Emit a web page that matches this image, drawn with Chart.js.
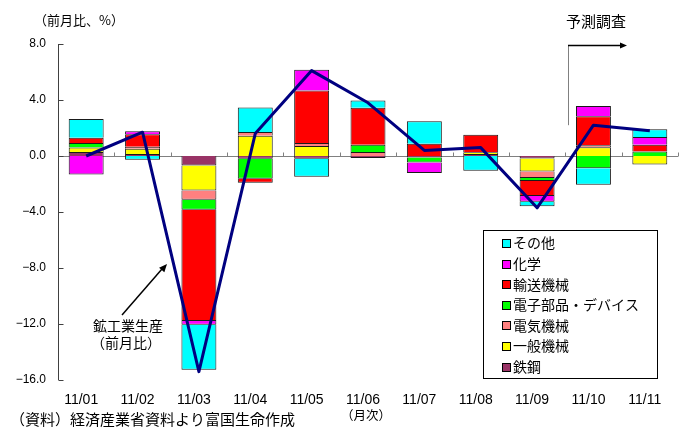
<!DOCTYPE html>
<html lang="ja">
<head>
<meta charset="utf-8">
<script src="https://cdn.jsdelivr.net/npm/chart.js@4/dist/chart.umd.min.js"></script>
<style>
  html, body { margin: 0; padding: 0; background: #fff; }
  #wrap { position: relative; width: 683px; height: 433px; }
</style>
</head>
<body>
<div id="wrap"><canvas id="c" width="683" height="433"></canvas></div>
<script>
// 月次カテゴリ
const months = ['11/01','11/02','11/03','11/04','11/05','11/06','11/07','11/08','11/09','11/10','11/11'];

// 業種別寄与度（%ポイント）
const tekko   = [0.29, 0.14, -0.67, -0.19, -0.19, -0.14, -0.10, 0.15, -0.17, 0, 0];
const ippan   = [0.31, 0.38, -1.79, 1.45, 0.71, 0, 0, 0.12, -0.93, 0.62, -0.60];
const denki   = [0, 0.14, -0.67, 0.26, 0.21, 0.29, 0, 0, -0.48, 0.15, 0];
const denshi  = [0.33, 0, -0.71, -1.43, 0, 0.52, -0.36, 0, -0.21, -0.88, 0.33];
const yuso    = [0.38, 0.90, -7.95, -0.29, 3.76, 2.64, 0.88, 1.25, -1.07, 2.07, 0.48];
const kagaku  = [-1.33, 0.21, -0.26, 0, 1.48, 0, -0.75, 0, -0.40, 0.74, 0.55];
const sonota  = [1.33, -0.26, -3.21, 1.76, -1.29, 0.52, 1.60, -1.05, -0.33, -1.17, 0.55];

// 鉱工業生産（前月比、%）
const kokogyo = [0.0, 1.7, -15.4, 1.6, 6.1, 3.8, 0.4, 0.6, -3.7, 2.2, 1.8];

// 縦軸目盛
const yMin = -16, yMax = 8, yStep = 4;

const JP = '"Noto Sans CJK JP", "Noto Sans", sans-serif';
const NUM = '"Liberation Sans Narrow", "Liberation Sans", Arial, sans-serif';

const barDefs = [
  ['鉄鋼', tekko, '#993366'],
  ['一般機械', ippan, '#FFFF00'],
  ['電気機械', denki, '#FF8080'],
  ['電子部品・デバイス', denshi, '#00FF00'],
  ['輸送機械', yuso, '#FF0000'],
  ['化学', kagaku, '#FF00FF'],
  ['その他', sonota, '#00FFFF']
];

const datasets = barDefs.map(([label, data, color]) => ({
  type: 'bar',
  label, data,
  backgroundColor: color,
  borderColor: '#1a1a1a',
  borderWidth: 1,
  order: 1,
  barPercentage: 0.62,
  categoryPercentage: 1.0
}));
datasets.push({
  type: 'line',
  label: '鉱工業生産',
  data: kokogyo,
  borderColor: '#000080',
  borderWidth: 3,
  borderJoinStyle: 'round',
  pointRadius: 0,
  tension: 0,
  order: 0
});

function arrowHead(ctx, x1, y1, x2, y2, len, half) {
  const a = Math.atan2(y2 - y1, x2 - x1);
  ctx.beginPath();
  ctx.moveTo(x2, y2);
  ctx.lineTo(x2 - len * Math.cos(a) + half * Math.sin(a), y2 - len * Math.sin(a) - half * Math.cos(a));
  ctx.lineTo(x2 - len * Math.cos(a) - half * Math.sin(a), y2 - len * Math.sin(a) + half * Math.cos(a));
  ctx.closePath();
  ctx.fill();
}

// 軸線・目盛線・注記・凡例
const decor = {
  id: 'decor',
  beforeDatasetsDraw(chart) {
    const { ctx, chartArea: ca, scales: { x, y } } = chart;
    ctx.save();
    // ゼロ線と区切り目盛
    const y0 = Math.round(y.getPixelForValue(0)) + 0.5;
    ctx.strokeStyle = '#808080';
    ctx.lineWidth = 1;
    ctx.beginPath();
    ctx.moveTo(ca.left, y0);
    ctx.lineTo(ca.right, y0);
    const step = x.getPixelForValue(1) - x.getPixelForValue(0);
    for (let i = 1; i <= months.length; i++) {
      const px = Math.round(x.getPixelForValue(i) - step / 2) + 0.5;
      ctx.moveTo(px, y0);
      ctx.lineTo(px, y0 - 4);
    }
    ctx.stroke();
    // 縦軸
    const lx = Math.round(ca.left) + 0.5;
    ctx.strokeStyle = '#404040';
    ctx.beginPath();
    ctx.moveTo(lx, y.getPixelForValue(yMax));
    ctx.lineTo(lx, y.getPixelForValue(yMin));
    for (let v = yMin; v <= yMax; v += yStep) {
      const py = Math.round(y.getPixelForValue(v)) + 0.5;
      ctx.moveTo(lx, py);
      ctx.lineTo(lx + 5, py);
    }
    ctx.stroke();
    ctx.restore();
  },
  afterDatasetsDraw(chart) {
    const { ctx, scales: { x, y } } = chart;
    ctx.save();
    ctx.fillStyle = '#000';
    ctx.textBaseline = 'middle';

    // 単位
    ctx.font = '13px ' + JP;
    ctx.textAlign = 'left';
    ctx.fillText('（前月比、%）', 34, 20);

    // 予測調査
    const ax = (x.getPixelForValue(8) + x.getPixelForValue(9)) / 2 + 3;
    ctx.font = '15px ' + JP;
    ctx.textAlign = 'center';
    ctx.fillText('予測調査', 596, 21);
    ctx.strokeStyle = '#808080';
    ctx.lineWidth = 1;
    ctx.beginPath();
    ctx.moveTo(Math.round(ax) + 0.5, y.getPixelForValue(2.2));
    ctx.lineTo(Math.round(ax) + 0.5, 45.5);
    ctx.stroke();
    ctx.strokeStyle = '#000';
    ctx.lineWidth = 1.5;
    ctx.beginPath();
    ctx.moveTo(Math.round(ax), 45.5);
    ctx.lineTo(621, 45.5);
    ctx.stroke();
    arrowHead(ctx, ax, 45.5, 627, 45.5, 7, 3);

    // 鉱工業生産 注記
    ctx.font = '14px ' + JP;
    ctx.fillText('鉱工業生産', 128, 326);
    ctx.fillText('（前月比）', 126, 343);
    ctx.strokeStyle = '#000';
    ctx.lineWidth = 1.5;
    ctx.beginPath();
    ctx.moveTo(122, 315);
    ctx.lineTo(162, 269);
    ctx.stroke();
    arrowHead(ctx, 122, 315, 167, 264, 8, 3.5);

    // 月次・出所
    ctx.font = '12.5px ' + JP;
    ctx.fillText('（月次）', 366, 415);
    ctx.font = '15px ' + JP;
    ctx.textAlign = 'left';
    ctx.fillText('（資料）経済産業省資料より富国生命作成', 10, 419);

    // 凡例
    const bx = 483.5, by = 230.5, bw = 174, bh = 148;
    ctx.fillStyle = '#fff';
    ctx.fillRect(bx, by, bw, bh);
    ctx.strokeStyle = '#000';
    ctx.lineWidth = 1;
    ctx.strokeRect(bx, by, bw, bh);
    const items = chart.data.datasets.filter(d => d.type === 'bar').slice().reverse();
    ctx.font = '14px ' + JP;
    items.forEach((d, i) => {
      const cy = 243 + i * 20.6;
      ctx.fillStyle = d.backgroundColor;
      ctx.fillRect(502, Math.round(cy) - 4, 8, 8);
      ctx.strokeStyle = '#000';
      ctx.strokeRect(502.5, Math.round(cy) - 3.5, 8, 8);
      ctx.fillStyle = '#000';
      ctx.fillText(d.label, 513, cy);
    });
    ctx.restore();
  }
};

new Chart(document.getElementById('c'), {
  data: { labels: months, datasets },
  options: {
    responsive: false,
    animation: false,
    layout: { padding: { top: 44, right: 5, left: 0, bottom: 0 } },
    plugins: { legend: { display: false }, tooltip: { enabled: false } },
    scales: {
      x: {
        stacked: true,
        offset: true,
        grid: { display: false, drawTicks: false },
        border: { display: false },
        ticks: {
          color: '#000',
          font: { family: NUM, size: 14 },
          padding: 12,
          labelOffset: -5,
          maxRotation: 0,
          autoSkip: false
        },
        afterFit: s => { s.height = 53; }
      },
      y: {
        stacked: true,
        min: yMin, max: yMax,
        grid: { display: false, drawTicks: false },
        border: { display: false },
        ticks: {
          stepSize: yStep,
          color: '#000',
          font: { family: '"Liberation Sans", Arial, sans-serif', size: 12 },
          padding: 12,
          callback: v => (v < 0 ? '\u2212' : '') + Math.abs(v).toFixed(1)
        },
        afterFit: s => { s.width = 58; }
      }
    }
  },
  plugins: [decor]
});
</script>
</body>
</html>
